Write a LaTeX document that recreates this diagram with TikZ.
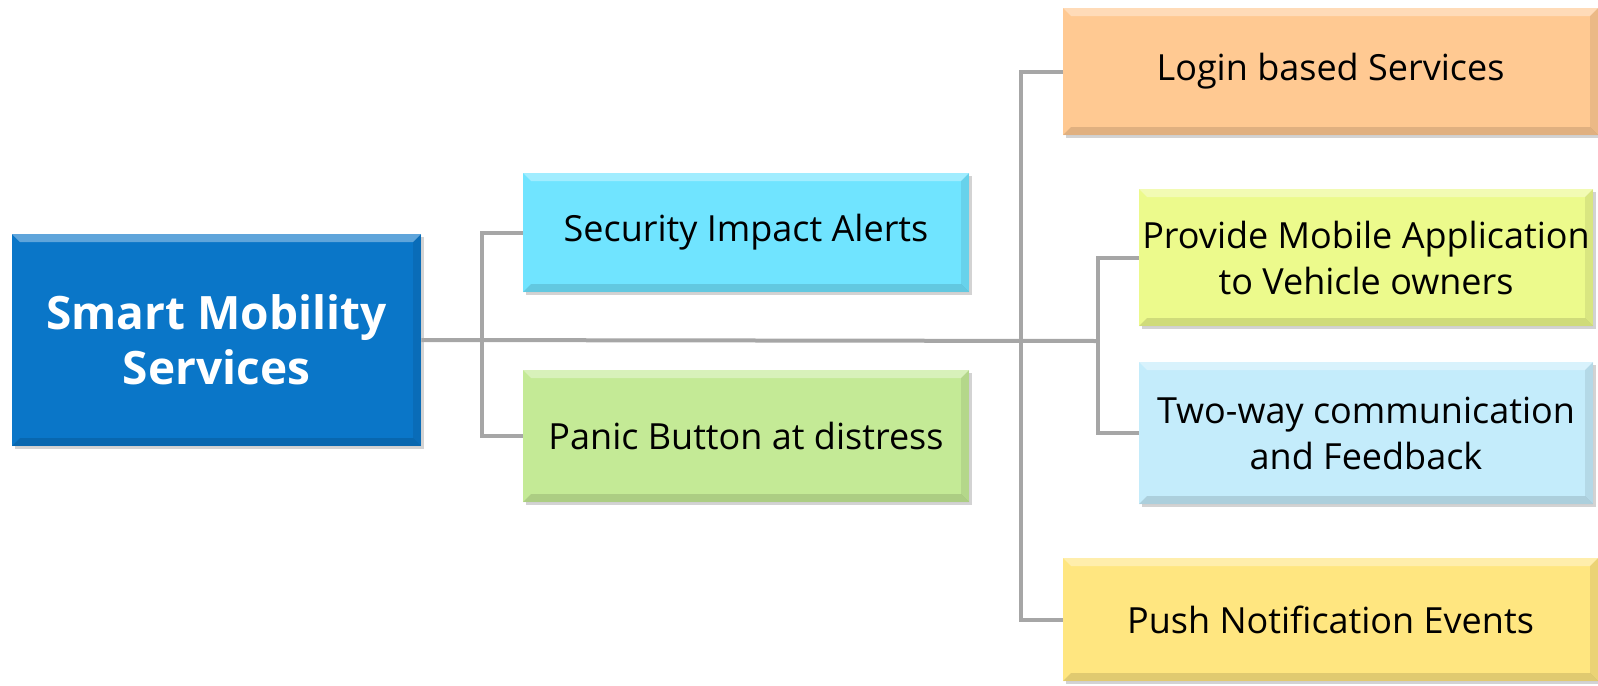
\documentclass[tikz,border=0pt]{standalone}
\usepackage{fontspec}
\setmainfont{Open Sans}
\usetikzlibrary{positioning,shadows}
\definecolor{rootblue}{RGB}{10,118,200}
\definecolor{alertcyan}{RGB}{112,228,255}
\definecolor{panicgreen}{RGB}{196,234,150}
\definecolor{loginorange}{RGB}{255,201,146}
\definecolor{appyellow}{RGB}{236,250,140}
\definecolor{talkblue}{RGB}{196,236,251}
\definecolor{pushyellow}{RGB}{255,230,128}
\definecolor{linkgray}{RGB}{166,166,166}
\tikzset{
	bevel/.style={
		path picture={
			\fill[white,opacity=.35] (path picture bounding box.north west)
				-- (path picture bounding box.north east)
				-- ([shift={(-4pt,-4pt)}]path picture bounding box.north east)
				-- ([shift={(4pt,-4pt)}]path picture bounding box.north west) -- cycle;
			\fill[black,opacity=.12] (path picture bounding box.south west)
				-- (path picture bounding box.south east)
				-- ([shift={(-4pt,4pt)}]path picture bounding box.south east)
				-- ([shift={(4pt,4pt)}]path picture bounding box.south west) -- cycle;
			\fill[black,opacity=.08] (path picture bounding box.north east)
				-- (path picture bounding box.south east)
				-- ([shift={(-4pt,4pt)}]path picture bounding box.south east)
				-- ([shift={(-4pt,-4pt)}]path picture bounding box.north east) -- cycle;
		}},
	service/.style={
		rectangle,
		bevel,
		drop shadow={shadow xshift=1.5pt, shadow yshift=-1.5pt, opacity=.35},
		font=\fontsize{18}{23}\selectfont,
		align=center,
		inner sep=0pt},
	rootbox/.style={
		service,
		fill=rootblue,
		text=white,
		font=\fontsize{23}{27.5}\selectfont\bfseries},
	link/.style={draw=linkgray, line width=2pt},
}

\begin{document}
\begin{tikzpicture}[x=0.5pt,y=-0.5pt]
\useasboundingbox (0,0) rectangle (1598,685);

% hub positions on the spine
\coordinate (hubA) at (482,341);
\coordinate (hubB) at (1021,341);
\coordinate (hubC) at (1098,341);

\node[rootbox, minimum width=204.5pt, minimum height=106pt] (smart) at (216.5,340)
	{Smart Mobility\\Services};

\node[service, fill=alertcyan, minimum width=223pt, minimum height=59.5pt] (alerts) at (746,232.5)
	{Security Impact Alerts};
\node[service, fill=panicgreen, minimum width=223pt, minimum height=66pt] (panic) at (746,436)
	{Panic Button at distress};

\node[service, fill=loginorange, minimum width=267.5pt, minimum height=63.5pt] (login) at (1330.5,71.5)
	{Login based Services};
\node[service, fill=appyellow, minimum width=227pt, minimum height=68.5pt] (mobapp) at (1366,257.5)
	{Provide Mobile Application\\to Vehicle owners};
\node[service, fill=talkblue, minimum width=227pt, minimum height=71pt] (twoway) at (1366,433)
	{Two-way communication\\and Feedback};
\node[service, fill=pushyellow, minimum width=267.5pt, minimum height=61.5pt] (push) at (1330.5,619.5)
	{Push Notification Events};

% connectors
\draw[link] (smart.east) -- (hubC);
\draw[link] (alerts.west) -| (hubA) |- (panic.west);
\draw[link] (login.west) -| (hubB) |- (push.west);
\draw[link] (mobapp.west) -| (hubC) |- (twoway.west);
\end{tikzpicture}
\end{document}
